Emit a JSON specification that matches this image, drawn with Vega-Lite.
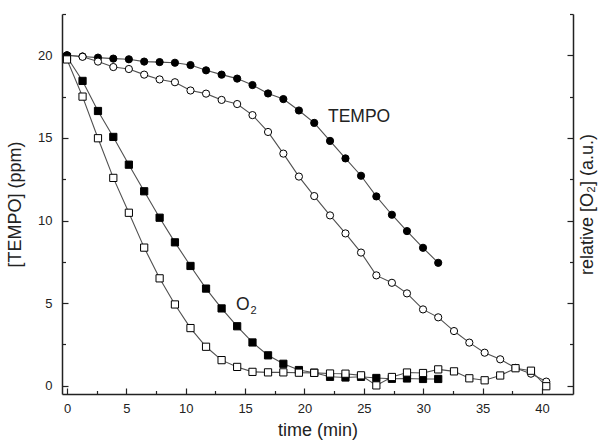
{
  "$schema": "https://vega.github.io/schema/vega-lite/v6.json",
  "width": 511,
  "height": 380,
  "autosize": "none",
  "padding": {"left": 62, "top": 14, "right": 33, "bottom": 50},
  "config": {
    "view": {"stroke": null},
    "font": "Liberation Sans",
    "axis": {
      "grid": false,
      "domainColor": "#222",
      "tickColor": "#222",
      "labelColor": "#222",
      "titleColor": "#222",
      "labelFont": "Liberation Sans",
      "titleFont": "Liberation Sans",
      "labelFontSize": 13,
      "titleFontSize": 18,
      "titleFontWeight": "normal",
      "domainWidth": 1.5,
      "tickWidth": 1.2
    }
  },
  "datasets": {
    "series": [
      {"t": 0, "v": 20.0, "s": "b"},
      {"t": 0, "v": 20.0, "s": "a"},
      {"t": 1.31, "v": 19.93, "s": "a"},
      {"t": 2.61, "v": 19.86, "s": "a"},
      {"t": 3.9, "v": 19.8, "s": "a"},
      {"t": 5.21, "v": 19.76, "s": "a"},
      {"t": 6.5, "v": 19.62, "s": "a"},
      {"t": 7.8, "v": 19.59, "s": "a"},
      {"t": 9.09, "v": 19.55, "s": "a"},
      {"t": 10.4, "v": 19.41, "s": "a"},
      {"t": 11.71, "v": 19.09, "s": "a"},
      {"t": 13.02, "v": 18.83, "s": "a"},
      {"t": 14.33, "v": 18.59, "s": "a"},
      {"t": 15.62, "v": 18.2, "s": "a"},
      {"t": 16.93, "v": 17.69, "s": "a"},
      {"t": 18.22, "v": 17.35, "s": "a"},
      {"t": 19.53, "v": 16.66, "s": "a"},
      {"t": 20.82, "v": 15.91, "s": "a"},
      {"t": 22.15, "v": 14.82, "s": "a"},
      {"t": 23.45, "v": 13.76, "s": "a"},
      {"t": 24.76, "v": 12.71, "s": "a"},
      {"t": 26.05, "v": 11.46, "s": "a"},
      {"t": 27.36, "v": 10.35, "s": "a"},
      {"t": 28.63, "v": 9.36, "s": "a"},
      {"t": 29.98, "v": 8.35, "s": "a"},
      {"t": 31.26, "v": 7.44, "s": "a"},
      {"t": 0, "v": 19.9, "s": "c"},
      {"t": 1.31, "v": 18.45, "s": "c"},
      {"t": 2.61, "v": 16.63, "s": "c"},
      {"t": 3.9, "v": 15.06, "s": "c"},
      {"t": 5.21, "v": 13.38, "s": "c"},
      {"t": 6.5, "v": 11.77, "s": "c"},
      {"t": 7.8, "v": 10.17, "s": "c"},
      {"t": 9.09, "v": 8.68, "s": "c"},
      {"t": 10.4, "v": 7.25, "s": "c"},
      {"t": 11.71, "v": 5.88, "s": "c"},
      {"t": 13.02, "v": 4.68, "s": "c"},
      {"t": 14.33, "v": 3.6, "s": "c"},
      {"t": 15.62, "v": 2.62, "s": "c"},
      {"t": 16.93, "v": 1.84, "s": "c"},
      {"t": 18.22, "v": 1.33, "s": "c"},
      {"t": 19.53, "v": 0.95, "s": "c"},
      {"t": 20.82, "v": 0.79, "s": "c"},
      {"t": 22.15, "v": 0.54, "s": "c"},
      {"t": 23.45, "v": 0.5, "s": "c"},
      {"t": 24.76, "v": 0.54, "s": "c"},
      {"t": 26.05, "v": 0.47, "s": "c"},
      {"t": 27.36, "v": 0.42, "s": "c"},
      {"t": 28.63, "v": 0.44, "s": "c"},
      {"t": 29.98, "v": 0.41, "s": "c"},
      {"t": 31.26, "v": 0.41, "s": "c"},
      {"t": 1.31, "v": 19.91, "s": "b"},
      {"t": 2.61, "v": 19.62, "s": "b"},
      {"t": 3.9, "v": 19.29, "s": "b"},
      {"t": 5.21, "v": 19.17, "s": "b"},
      {"t": 6.5, "v": 18.83, "s": "b"},
      {"t": 7.8, "v": 18.54, "s": "b"},
      {"t": 9.09, "v": 18.37, "s": "b"},
      {"t": 10.4, "v": 17.87, "s": "b"},
      {"t": 11.71, "v": 17.68, "s": "b"},
      {"t": 13.02, "v": 17.3, "s": "b"},
      {"t": 14.33, "v": 17.05, "s": "b"},
      {"t": 15.62, "v": 16.38, "s": "b"},
      {"t": 16.93, "v": 15.36, "s": "b"},
      {"t": 18.22, "v": 14.05, "s": "b"},
      {"t": 19.53, "v": 12.66, "s": "b"},
      {"t": 20.82, "v": 11.48, "s": "b"},
      {"t": 22.15, "v": 10.31, "s": "b"},
      {"t": 23.45, "v": 9.22, "s": "b"},
      {"t": 24.76, "v": 8.06, "s": "b"},
      {"t": 26.05, "v": 6.68, "s": "b"},
      {"t": 27.36, "v": 6.23, "s": "b"},
      {"t": 28.63, "v": 5.59, "s": "b"},
      {"t": 29.98, "v": 4.62, "s": "b"},
      {"t": 31.26, "v": 4.14, "s": "b"},
      {"t": 32.59, "v": 3.31, "s": "b"},
      {"t": 33.88, "v": 2.61, "s": "b"},
      {"t": 35.17, "v": 2.0, "s": "b"},
      {"t": 36.48, "v": 1.6, "s": "b"},
      {"t": 37.77, "v": 1.08, "s": "b"},
      {"t": 39.07, "v": 0.73, "s": "b"},
      {"t": 40.36, "v": 0.25, "s": "b"},
      {"t": 0, "v": 19.75, "s": "d"},
      {"t": 1.31, "v": 17.5, "s": "d"},
      {"t": 2.61, "v": 14.98, "s": "d"},
      {"t": 3.9, "v": 12.58, "s": "d"},
      {"t": 5.21, "v": 10.47, "s": "d"},
      {"t": 6.5, "v": 8.36, "s": "d"},
      {"t": 7.8, "v": 6.5, "s": "d"},
      {"t": 9.09, "v": 4.92, "s": "d"},
      {"t": 10.4, "v": 3.49, "s": "d"},
      {"t": 11.71, "v": 2.36, "s": "d"},
      {"t": 13.02, "v": 1.55, "s": "d"},
      {"t": 14.33, "v": 1.14, "s": "d"},
      {"t": 15.62, "v": 0.84, "s": "d"},
      {"t": 16.93, "v": 0.81, "s": "d"},
      {"t": 18.22, "v": 0.81, "s": "d"},
      {"t": 19.53, "v": 0.79, "s": "d"},
      {"t": 20.82, "v": 0.78, "s": "d"},
      {"t": 22.15, "v": 0.74, "s": "d"},
      {"t": 23.45, "v": 0.73, "s": "d"},
      {"t": 24.76, "v": 0.63, "s": "d"},
      {"t": 26.05, "v": 0.02, "s": "d"},
      {"t": 27.36, "v": 0.53, "s": "d"},
      {"t": 28.63, "v": 0.8, "s": "d"},
      {"t": 29.98, "v": 0.77, "s": "d"},
      {"t": 31.26, "v": 0.99, "s": "d"},
      {"t": 32.59, "v": 0.87, "s": "d"},
      {"t": 33.88, "v": 0.45, "s": "d"},
      {"t": 35.17, "v": 0.33, "s": "d"},
      {"t": 36.48, "v": 0.62, "s": "d"},
      {"t": 37.77, "v": 1.06, "s": "d"},
      {"t": 39.07, "v": 0.91, "s": "d"},
      {"t": 40.36, "v": -0.03, "s": "d"}
    ]
  },
  "layer": [
    {
      "data": {"name": "series"},
      "mark": {"type": "line", "color": "#505050", "strokeWidth": 1.1},
      "encoding": {
        "x": {
          "field": "t", "type": "quantitative",
          "scale": {"domain": [-0.42, 42.61], "nice": false, "zero": false},
          "axis": {
            "orient": "bottom",
            "values": [0, 5, 10, 15, 20, 25, 30, 35, 40],
            "tickSize": -6,
            "labelPadding": 14,
            "title": "time (min)",
            "titlePadding": 6
          }
        },
        "y": {
          "field": "v", "type": "quantitative",
          "scale": {"domain": [-0.5, 22.5], "nice": false, "zero": false},
          "axis": {
            "orient": "left",
            "values": [0, 5, 10, 15, 20],
            "tickSize": -6,
            "labelPadding": 16,
            "title": "[TEMPO] (ppm)",
            "titlePadding": 13
          }
        },
        "detail": {"field": "s"}
      }
    },
    {
      "data": {"name": "series"},
      "mark": {"type": "point", "filled": false, "stroke": "black", "strokeWidth": 1, "opacity": 1, "size": 52},
      "encoding": {
        "x": {
          "field": "t", "type": "quantitative",
          "scale": {"domain": [-0.42, 42.61], "nice": false, "zero": false},
          "axis": {
            "orient": "bottom",
            "values": [2.5, 7.5, 12.5, 17.5, 22.5, 27.5, 32.5, 37.5],
            "tickSize": -3.5,
            "labels": false,
            "domain": false,
            "title": null
          }
        },
        "y": {
          "field": "v", "type": "quantitative",
          "scale": {"domain": [-0.5, 22.5], "nice": false, "zero": false},
          "axis": {
            "orient": "left",
            "values": [2.5, 7.5, 12.5, 17.5, 22.5],
            "tickSize": -3.5,
            "labels": false,
            "domain": false,
            "title": null
          }
        },
        "shape": {
          "field": "s", "type": "nominal",
          "scale": {"domain": ["a", "b", "c", "d"], "range": ["circle", "circle", "square", "square"]},
          "legend": null
        },
        "fill": {
          "field": "s", "type": "nominal",
          "scale": {"domain": ["a", "b", "c", "d"], "range": ["black", "white", "black", "white"]},
          "legend": null
        }
      }
    },
    {
      "data": {"values": [{"t": 21.98, "v": 16.26, "txt": "TEMPO"}, {"t": 14.23, "v": 4.9, "txt": "O"}]},
      "mark": {"type": "text", "align": "left", "baseline": "middle", "fontSize": 17.5, "color": "#222", "font": "Liberation Sans"},
      "encoding": {
        "x": {"field": "t", "type": "quantitative", "scale": {"domain": [-0.42, 42.61], "nice": false, "zero": false}, "axis": null},
        "y": {
          "field": "v", "type": "quantitative",
          "scale": {"domain": [-0.5, 22.5], "nice": false, "zero": false},
          "axis": {
            "orient": "right",
            "values": [0, 5, 10, 15, 20],
            "tickSize": -6,
            "labels": false,
            "title": "relative [O₂] (a.u.)",
            "titleAngle": 270,
            "titlePadding": 23
          }
        },
        "text": {"field": "txt"}
      }
    },
    {
      "data": {"values": [{"t": 15.45, "v": 4.5, "txt": "2"}]},
      "mark": {"type": "text", "align": "left", "baseline": "middle", "fontSize": 11, "color": "#222", "font": "Liberation Sans"},
      "encoding": {
        "x": {"field": "t", "type": "quantitative", "scale": {"domain": [-0.42, 42.61], "nice": false, "zero": false}, "axis": null},
        "y": {
          "field": "v", "type": "quantitative",
          "scale": {"domain": [-0.5, 22.5], "nice": false, "zero": false},
          "axis": {
            "orient": "right",
            "values": [2.5, 7.5, 12.5, 17.5, 22.5],
            "tickSize": -3.5,
            "labels": false,
            "domain": false,
            "title": null
          }
        },
        "text": {"field": "txt"}
      }
    }
  ],
  "resolve": {"axis": {"x": "independent", "y": "independent"}}
}
